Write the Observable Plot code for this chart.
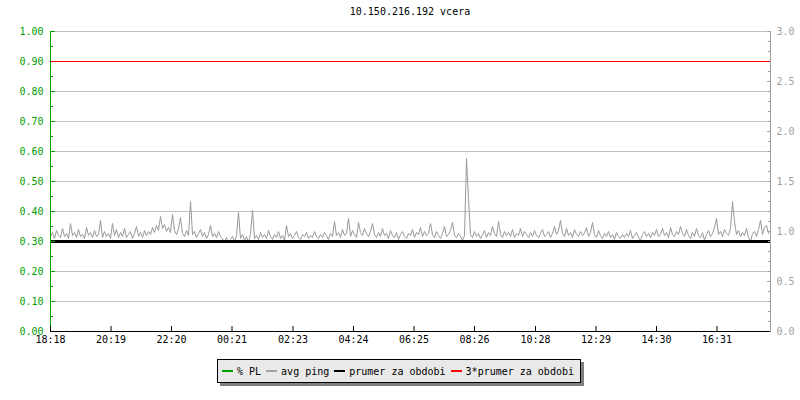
<!DOCTYPE html>
<html><head><meta charset="utf-8">
<script src="https://cdn.jsdelivr.net/npm/d3@7"></script>
<script src="https://cdn.jsdelivr.net/npm/@observablehq/plot@0.6"></script>
<style>
body{margin:0;background:#fff;font-family:"DejaVu Sans Mono",monospace;font-size:10px;color:#000;}
#wrap{position:relative;width:800px;height:400px;overflow:hidden;}
#title{position:absolute;top:6px;left:0;width:820px;text-align:center;font-size:10px;}
#chart{position:absolute;top:24px;left:0;}
#legend{position:absolute;left:217px;top:359px;width:364px;height:24px;box-sizing:border-box;background:#e9e9e9;border:1px solid #000;box-shadow:3px 3px 0 #808080;display:flex;align-items:center;padding-left:4px;white-space:nowrap;}
.sw{display:inline-block;width:11px;height:2px;margin-right:4px;}
.it{margin-right:5px;}
</style></head>
<body><div id="wrap">
<div id="title"></div>
<div id="chart"></div>
<div id="legend"></div>
</div>
<script>
const titleText = "10.150.216.192 vcera";
const xTickMinutes = [0,121,242,363,485,606,727,848,970,1091,1212,1333];
const xTickLabels = ["18:18","20:19","22:20","00:21","02:23","04:24","06:25","08:26","10:28","12:29","14:30","16:31"];
const leftTickValues = [0.00,0.10,0.20,0.30,0.40,0.50,0.60,0.70,0.80,0.90,1.00];
const leftMinorValues = [0.05,0.15,0.25,0.35,0.45,0.55,0.65,0.75,0.85,0.95];
const rightTickValues = [0.0,0.5,1.0,1.5,2.0,2.5,3.0];
const rightMinorValues = [0.1,0.2,0.3,0.4,0.6,0.7,0.8,0.9,1.1,1.2,1.3,1.4,1.6,1.7,1.8,1.9,2.1,2.2,2.3,2.4,2.6,2.7,2.8,2.9];
const stepMinutes = 4;
// avg ping (ms, right axis), one value every 4 minutes from 18:18
const pingValues = [
 0.95,0.99,0.93,1.01,0.96,0.94,1.03,0.95,0.98,0.93,1.08,0.96,
 0.99,0.94,1.02,0.95,0.97,0.93,1.04,0.96,0.99,0.94,1.01,0.95,
 0.97,1.11,0.94,1.00,0.95,0.98,0.93,1.08,0.96,1.02,0.94,0.99,
 0.95,1.03,0.94,0.97,1.00,0.93,0.98,1.05,0.95,0.99,0.94,1.01,
 0.96,1.00,0.97,1.04,0.99,1.06,1.01,1.15,1.03,1.07,1.00,1.04,
 0.99,1.17,1.01,0.97,1.03,1.14,0.98,0.95,1.01,0.96,1.30,0.97,
 1.00,0.94,0.98,1.02,0.95,0.99,0.93,0.97,1.06,0.95,0.98,0.94,
 1.00,0.95,0.93,0.90,0.94,0.89,0.92,0.95,0.90,0.96,1.19,0.93,
 0.97,0.91,0.95,0.89,0.98,1.21,0.93,0.96,0.92,0.99,0.94,0.97,
 0.93,1.01,0.95,0.92,0.97,0.94,1.00,0.93,0.96,0.91,1.06,0.95,
 0.98,0.93,0.96,1.00,0.94,0.92,0.97,0.95,0.99,0.93,0.96,0.94,
 1.00,0.95,0.93,0.97,0.94,0.99,0.96,0.92,0.98,0.95,1.10,0.96,
 0.99,0.94,1.02,0.96,0.98,1.13,0.95,1.01,0.97,0.94,1.09,0.99,
 0.96,1.03,0.98,0.95,1.00,1.08,0.97,0.94,0.99,0.95,1.03,0.96,
 0.98,0.93,1.01,0.96,0.94,0.99,0.92,0.97,1.00,0.95,0.93,0.98,
 0.96,1.02,0.94,0.99,0.97,1.04,0.95,1.00,0.96,0.98,1.08,0.97,
 0.94,1.00,0.96,0.93,0.98,1.05,0.95,0.97,1.01,1.09,0.96,0.94,
 0.98,0.95,0.91,0.96,1.73,1.33,0.97,0.94,1.00,0.95,0.98,0.93,
 0.97,1.01,0.94,0.99,0.96,1.05,0.98,0.95,1.10,0.97,0.94,1.00,
 0.96,0.99,0.95,1.02,0.94,0.98,0.96,1.03,0.95,1.00,0.97,0.94,
 0.99,0.95,1.01,0.96,0.94,0.98,1.02,0.95,0.97,1.00,0.94,0.98,
 1.05,0.97,1.01,1.11,0.98,0.95,1.03,0.96,0.99,0.94,1.02,0.97,
 0.95,1.00,0.96,0.98,1.04,0.95,0.99,1.09,0.97,0.94,1.01,0.96,
 0.93,0.98,0.95,1.00,0.94,0.97,0.92,0.99,0.95,0.93,0.97,0.94,
 0.98,0.95,1.01,0.93,0.96,0.99,0.94,0.91,0.97,1.00,0.95,0.98,
 0.94,0.99,0.96,1.02,0.95,0.97,1.03,0.96,0.99,0.94,1.04,0.97,
 0.95,1.00,0.97,1.05,0.98,0.95,1.02,0.96,0.93,0.99,0.95,1.03,
 0.96,0.94,0.99,0.91,0.97,1.01,0.95,0.98,1.04,1.13,0.97,1.00,
 0.95,1.02,0.98,0.96,1.03,1.30,1.10,0.97,1.01,0.95,0.99,0.96,
 1.03,0.94,0.90,0.98,1.00,0.95,1.02,1.11,0.97,1.04,1.06,0.98
];
const plValues = [0];
const prumer = [0.9];
const prumer3 = [2.7];
const leftScaleFactor = 3;
const legendItems = ["% PL","avg ping","prumer za obdobi","3*prumer za obdobi"];
const legendColors = ["#00a000","#a0a0a0","#000000","#ff0000"];

document.getElementById("title").textContent = titleText;
const pingData = pingValues.map((v,i)=>({t:i*stepMinutes, v}));
const green = "#00a000", gray = "#a0a0a0";

const chart = Plot.plot({
  width: 800, height: 326,
  marginLeft: 50, marginRight: 30, marginTop: 7, marginBottom: 19,
  style: {fontFamily: "DejaVu Sans Mono", fontSize: "10px", background: "#fff"},
  x: {domain: [0, 1440], axis: null, label: null},
  y: {domain: [0, 3], axis: null, label: null},
  marks: [
    Plot.ruleY(leftTickValues.map(d=>d*leftScaleFactor), {stroke: "#c0c0c0", strokeWidth: 1}),
    Plot.line(pingData, {x: "t", y: "v", stroke: "#999999", strokeWidth: 1}),
    Plot.ruleY(prumer, {stroke: "#000", strokeWidth: 3}),
    Plot.ruleY(plValues, {stroke: green, strokeWidth: 1}),
    // left axis (green)
    Plot.axisY(leftTickValues.map(d=>d*leftScaleFactor), {anchor: "left", label: null, tickSize: -5, tickPadding: 12, stroke: green, fill: green, tickFormat: d => (d/leftScaleFactor).toFixed(2)}),
    Plot.axisY(leftMinorValues.map(d=>d*leftScaleFactor), {anchor: "left", label: null, tickSize: -3, stroke: green, text: null}),
    Plot.ruleX([0], {stroke: green, strokeWidth: 1}),
    // right axis (gray)
    Plot.axisY(rightTickValues, {anchor: "right", label: null, tickSize: -4, tickPadding: 10, stroke: gray, fill: gray, tickFormat: d => d.toFixed(1)}),
    Plot.axisY(rightMinorValues, {anchor: "right", label: null, tickSize: -3, stroke: gray, text: null}),
    Plot.ruleX([1440], {stroke: gray, strokeWidth: 1}),
    // bottom axis
    Plot.ruleY([0], {stroke: "#000", strokeWidth: 1}),
    Plot.axisX(xTickMinutes, {anchor: "bottom", label: null, tickSize: -5, tickPadding: 9, stroke: "#000", fill: "#000", tickFormat: (d,i) => xTickLabels[i]}),
    // 3*prumer (red)
    Plot.ruleY(prumer3, {stroke: "#ff0000", strokeWidth: 1})
  ]
});
document.getElementById("chart").appendChild(chart);

const leg = document.getElementById("legend");
legendItems.forEach((name,i)=>{
  const sw = document.createElement("span"); sw.className="sw"; sw.style.background = legendColors[i];
  const tx = document.createElement("span"); tx.className="it"; tx.textContent = name;
  leg.appendChild(sw); leg.appendChild(tx);
});
</script>
</body></html>
